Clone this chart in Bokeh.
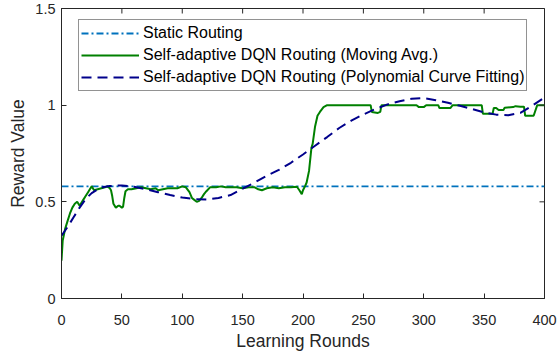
import math
from bokeh.plotting import figure
from bokeh.models import FixedTicker, Range1d
from bokeh.embed import file_html
from bokeh.resources import INLINE

# ---------------- data ----------------
x_ticks = [0, 50, 100, 150, 200, 250, 300, 350, 400]
y_ticks = [0, 0.5, 1, 1.5]
y_tick_labels = ["0", "0.5", "1", "1.5"]

static_x = [0, 400]
static_y = [0.58, 0.58]

mavg_x = [0, 1, 2, 3, 5, 7, 9, 11, 13, 14, 15, 16, 18, 20, 22, 24, 25, 27, 30, 33,
          36, 38, 40, 41, 42, 43, 45, 47, 48, 50, 51, 52, 53, 55, 58, 62, 66, 70, 74, 78,
          80, 84, 88, 92, 96, 100, 103, 106, 108, 110, 112, 114, 116, 118, 120, 123, 128, 132, 136, 140,
          145, 150, 155, 160, 163, 166, 170, 175, 180, 185, 190, 195, 197, 199, 200, 202, 203, 205, 207, 208,
          210, 212, 214, 217, 220, 230, 240, 250, 256, 257, 262, 264, 265, 275, 285, 294, 296, 300, 302, 312,
          313, 322, 324, 335, 348, 349, 357, 358, 360, 362, 366, 367, 374, 376, 380, 383, 384, 391, 394, 400]
mavg_y = [0.196, 0.30, 0.33, 0.36, 0.40, 0.44, 0.47, 0.49, 0.50, 0.49, 0.48, 0.49, 0.51, 0.53, 0.55, 0.57, 0.58, 0.56, 0.565, 0.57,
          0.575, 0.58, 0.57, 0.56, 0.53, 0.49, 0.47, 0.48, 0.48, 0.47, 0.475, 0.52, 0.555, 0.565, 0.565, 0.57, 0.575, 0.57, 0.565, 0.57,
          0.56, 0.565, 0.57, 0.57, 0.57, 0.58, 0.575, 0.55, 0.52, 0.51, 0.50, 0.505, 0.52, 0.54, 0.555, 0.575, 0.575, 0.58, 0.575, 0.575,
          0.575, 0.57, 0.575, 0.575, 0.565, 0.56, 0.57, 0.575, 0.57, 0.575, 0.575, 0.578, 0.56, 0.54, 0.56, 0.585, 0.60, 0.66, 0.78, 0.80,
          0.89, 0.945, 0.965, 0.99, 1.0, 1.0, 1.0, 1.0, 1.0, 0.965, 0.96, 0.965, 1.0, 1.0, 1.0, 1.0, 0.99, 0.99, 1.0, 1.0,
          0.985, 0.985, 1.0, 1.0, 1.0, 0.955, 0.955, 0.985, 0.985, 0.975, 0.975, 0.987, 0.99, 0.995, 0.992, 0.992, 0.945, 0.945, 1.0, 1.0]

poly_x = [0, 5, 10, 15, 20, 25, 30, 35, 40, 50, 60, 70, 80, 90, 100, 110, 120, 130, 140, 150,
          160, 170, 180, 190, 200, 210, 220, 230, 240, 250, 260, 270, 280, 290, 300, 310, 320, 330, 340, 350,
          360, 370, 380, 390, 400]
poly_y = [0.325, 0.37, 0.42, 0.47, 0.515, 0.545, 0.565, 0.577, 0.582, 0.585, 0.578, 0.565, 0.55, 0.535, 0.522, 0.514, 0.512, 0.52, 0.535, 0.568,
          0.6, 0.635, 0.665, 0.702, 0.745, 0.79, 0.835, 0.882, 0.92, 0.952, 0.98, 1.004, 1.02, 1.033, 1.036, 1.026, 1.012, 0.997, 0.98, 0.962,
          0.951, 0.948, 0.96, 0.998, 1.04]

labels = ["Static Routing",
          "Self-adaptive DQN Routing (Moving Avg.)",
          "Self-adaptive DQN Routing (Polynomial Curve Fitting)"]

# ---------------- figure ----------------
FONT = "Liberation Sans"
AX = "#262626"
X0, X1 = x_ticks[0], x_ticks[-1]
Y0, Y1 = y_ticks[0], y_ticks[-1]

p = figure(width=558, height=356, output_backend="svg", toolbar_location=None,
           x_range=Range1d(X0, X1), y_range=Range1d(Y0, Y1),
           min_border_left=61, min_border_right=14, min_border_top=8, min_border_bottom=58)
p.outline_line_color = AX
p.outline_line_width = 1
p.outline_line_alpha = 1
p.xgrid.visible = False
p.ygrid.visible = False

p.line(static_x, static_y, line_color="#0072BD", line_width=1.8, line_dash="7 3 2 3",
       legend_label=labels[0])
p.line(mavg_x, mavg_y, line_color="#008000", line_width=2, legend_label=labels[1])
p.line(poly_x, poly_y, line_color="#00008B", line_width=2, line_dash="10 6",
       legend_label=labels[2])

# inward ticks on the top and right edges (half of each dash is clipped by the frame)
p.scatter(x=x_ticks, y=[Y1] * len(x_ticks), marker="dash", size=10, angle=math.pi / 2,
          line_color=AX, line_width=1)
p.scatter(x=[X1] * len(y_ticks), y=y_ticks, marker="dash", size=10, angle=0,
          line_color=AX, line_width=1)


def style(ax):
    ax.axis_line_color = AX
    ax.axis_line_width = 1
    ax.major_tick_line_color = AX
    ax.major_tick_in = 5
    ax.major_tick_out = 0
    ax.minor_tick_line_color = None
    ax.major_label_text_font = FONT
    ax.major_label_text_color = AX
    ax.major_label_text_font_size = "14.5px"
    ax.axis_label_text_font = FONT
    ax.axis_label_text_color = AX
    ax.axis_label_text_font_style = "normal"
    ax.axis_label_text_font_size = "17.5px"


xa = p.xaxis[0]
xa.ticker = FixedTicker(ticks=x_ticks)
style(xa)
xa.axis_label = "Learning Rounds"
xa.major_label_standoff = 16
xa.axis_label_standoff = 3

ya = p.yaxis[0]
ya.ticker = FixedTicker(ticks=y_ticks)
style(ya)
ya.axis_label = "Reward Value"
ya.major_label_standoff = 6
ya.axis_label_standoff = 4
ya.major_label_overrides = {float(t): s for t, s in zip(y_ticks, y_tick_labels)}

lg = p.legend[0]
lg.location = (17, 207)
lg.border_line_color = AX
lg.border_line_width = 1
lg.background_fill_color = "white"
lg.background_fill_alpha = 1
lg.label_text_font = FONT
lg.label_text_font_size = "16px"
lg.label_text_color = "black"
lg.glyph_width = 58
lg.glyph_height = 22
lg.label_height = 22
lg.label_standoff = 4
lg.spacing = 0
lg.padding = 2
lg.margin = 0

open("out.html", "w").write(file_html(p, INLINE))
